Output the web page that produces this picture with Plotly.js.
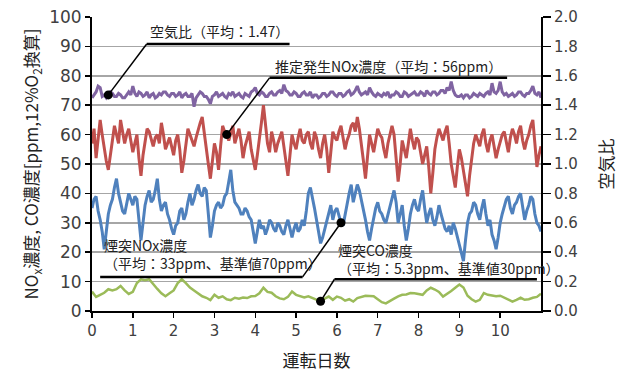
<!DOCTYPE html>
<html>
<head>
<meta charset="utf-8">
<script src="https://cdn.plot.ly/plotly-3.0.1.min.js"></script>
<style>html,body{margin:0;padding:0;background:#fff;}#chart{width:630px;height:372px;}</style>
</head>
<body>
<div id="chart"></div>
<script>
// sampling steps of the logged series (days)
const fineStep = 0.05;
const coarseStep = 0.1;
const xTickLabels = [0,1,2,3,4,5,6,7,8,9,10];

// 推定発生NOx濃度 [ppm]  (0.05-day samples, one row per half day)
const estNOx = [
  57,62,52,58,65,60,55,51,48,54,
  58,63,60,57,65,61,57,60,62,58,
  54,57,60,52,46,53,57,62,61,58,
  56,59,60,57,64,60,55,57,59,56,
  53,58,60,55,47,51,57,62,60,58,
  56,59,62,64,66,60,55,50,45,52,
  57,54,48,56,63,61,60,58,61,63,
  57,60,62,58,52,56,59,61,55,52,
  48,53,58,64,70,63,57,54,61,58,
  54,57,59,61,56,51,46,53,60,57,
  55,59,62,58,57,60,61,57,55,61,
  59,55,52,57,60,55,47,54,61,59,
  58,61,63,59,55,58,60,63,64,61,
  66,62,57,51,45,52,60,57,54,58,
  62,60,59,55,52,57,60,63,60,53,
  44,50,58,55,52,57,62,58,55,59,
  58,54,50,53,56,49,40,47,55,59,
  62,60,58,61,63,57,50,46,42,49,
  55,52,48,44,39,46,52,57,60,58,
  56,60,62,57,54,58,60,56,52,55,
  58,60,61,57,54,59,62,60,57,61,
  63,58,55,58,60,63,65,57,49,53,
  56];
// 煙突NOx濃度 [ppm]
const stackNOx = [
  35,38,39,34,31,27,21,28,33,36,
  38,42,45,40,37,34,33,37,40,38,
  36,39,38,31,24,30,36,39,41,37,
  38,41,45,38,34,36,37,33,31,28,
  26,29,30,34,35,31,33,37,40,36,
  38,41,43,40,39,42,41,33,25,29,
  34,36,37,35,36,39,40,44,48,41,
  37,36,35,33,33,35,34,32,31,27,
  23,27,31,28,29,26,28,31,30,28,
  27,30,29,27,26,29,31,28,25,28,
  30,27,28,31,29,34,40,42,39,35,
  31,27,23,25,28,31,33,36,31,34,
  35,32,30,29,33,37,40,43,37,40,
  43,41,38,35,31,27,24,28,32,35,
  37,34,33,31,30,33,35,38,41,37,
  30,33,36,29,24,28,33,36,38,35,
  34,38,41,35,30,33,35,31,29,32,
  36,33,30,28,27,29,26,30,28,25,
  22,19,17,24,30,33,34,37,36,33,
  31,35,38,33,29,31,26,24,21,25,
  30,33,36,38,39,35,33,36,37,39,
  40,36,31,34,36,39,38,33,30,29,
  27];
// 空気比
const airRatio = [
  1.45,1.47,1.49,1.53,1.52,1.46,1.47,1.45,1.47,1.49,
  1.48,1.46,1.46,1.48,1.47,1.45,1.45,1.47,1.49,1.47,
  1.53,1.48,1.46,1.49,1.48,1.46,1.47,1.49,1.45,1.47,
  1.48,1.45,1.46,1.48,1.47,1.49,1.49,1.47,1.46,1.48,
  1.48,1.46,1.47,1.49,1.45,1.47,1.48,1.46,1.46,1.48,
  1.39,1.45,1.47,1.49,1.48,1.46,1.46,1.44,1.41,1.46,
  1.47,1.49,1.46,1.47,1.48,1.46,1.45,1.48,1.47,1.49,
  1.46,1.47,1.48,1.46,1.45,1.48,1.47,1.46,1.49,1.50,
  1.52,1.48,1.47,1.49,1.48,1.46,1.46,1.48,1.49,1.47,
  1.47,1.49,1.50,1.48,1.54,1.50,1.49,1.47,1.47,1.49,
  1.48,1.46,1.46,1.48,1.49,1.47,1.47,1.49,1.45,1.47,
  1.47,1.45,1.46,1.48,1.48,1.46,1.47,1.49,1.49,1.47,
  1.46,1.48,1.48,1.46,1.47,1.49,1.50,1.47,1.48,1.50,
  1.53,1.49,1.47,1.48,1.49,1.47,1.52,1.49,1.47,1.46,
  1.48,1.47,1.46,1.48,1.47,1.49,1.45,1.47,1.47,1.49,
  1.48,1.46,1.46,1.49,1.48,1.46,1.47,1.48,1.49,1.47,
  1.47,1.49,1.48,1.46,1.50,1.48,1.47,1.49,1.49,1.47,
  1.48,1.50,1.50,1.48,1.52,1.50,1.56,1.50,1.47,1.46,
  1.46,1.47,1.45,1.47,1.47,1.45,1.46,1.48,1.47,1.46,
  1.48,1.47,1.46,1.48,1.49,1.47,1.55,1.49,1.48,1.50,
  1.56,1.49,1.47,1.48,1.46,1.47,1.48,1.46,1.47,1.49,
  1.49,1.47,1.46,1.48,1.48,1.50,1.53,1.48,1.47,1.49,
  1.45];
// 煙突CO濃度 [ppm]  (0.1-day samples)
const stackCO = [6.6,4.8,5.5,6.2,7.4,7.0,7.4,8.5,7.0,5.8,6.5,9.5,10.8,10.5,10.8,9.0,7.5,6.0,5.0,6.0,
  7.0,9.5,10.8,9.5,8.0,7.0,6.0,5.0,4.5,3.7,5.5,4.5,5.0,4.0,3.7,4.5,4.2,4.6,4.4,5.0,
  5.1,6.0,7.9,6.5,6.2,5.0,4.3,4.0,4.8,6.6,5.5,5.0,4.6,5.0,4.4,4.0,3.3,4.2,4.9,3.8,
  4.9,4.5,3.5,4.0,3.2,4.4,4.8,5.2,5.1,5.0,4.0,3.0,2.6,3.5,4.2,5.0,5.5,5.6,6.1,6.0,
  5.8,5.5,7.0,7.9,7.3,6.5,4.9,5.8,6.8,7.9,9.0,8.0,5.2,4.0,3.2,3.8,6.1,5.5,5.2,5.0,
  5.2,4.5,4.0,3.2,3.8,4.5,3.8,4.0,4.5,4.8,5.9];

// sample index of each callout point
const calloutIdx = {air: 8, est: 66, stack: 122, co: 56};

const daysFine = estNOx.map((_, i) => +(i * fineStep).toFixed(3));
const daysCoarse = stackCO.map((_, i) => +(i * coarseStep).toFixed(3));

const FONT = 'DejaVu Sans, "Noto Sans CJK JP", sans-serif';
const JFONT = '"Noto Sans CJK JP", "DejaVu Sans", sans-serif';

const traces = [
  {x: daysCoarse, y: stackCO, type: 'scatter', mode: 'lines', line: {color: '#9bbb59', width: 2.5}, hoverinfo: 'skip'},
  {x: daysFine, y: stackNOx, type: 'scatter', mode: 'lines', line: {color: '#4f81bd', width: 3}, hoverinfo: 'skip'},
  {x: daysFine, y: estNOx, type: 'scatter', mode: 'lines', line: {color: '#c0504d', width: 3}, hoverinfo: 'skip'},
  {x: daysFine, y: airRatio, yaxis: 'y2', type: 'scatter', mode: 'lines', line: {color: '#8064a2', width: 3}, hoverinfo: 'skip'},
  {x: [daysFine[calloutIdx.est], daysFine[calloutIdx.stack], daysCoarse[calloutIdx.co]],
   y: [estNOx[calloutIdx.est], stackNOx[calloutIdx.stack], stackCO[calloutIdx.co]],
   type: 'scatter', mode: 'markers', marker: {color: '#000', size: 9}, hoverinfo: 'skip'},
  {x: [daysFine[calloutIdx.air]], y: [airRatio[calloutIdx.air]], yaxis: 'y2',
   type: 'scatter', mode: 'markers', marker: {color: '#000', size: 9}, hoverinfo: 'skip'}
];

const ln = (pts) => ({type: 'path', xref: 'x', yref: 'y',
  path: 'M' + pts.map(p => p[0] + ',' + p[1]).join(' L'), line: {color: '#000', width: 1.5}});
const hl = (x0, x1, y) => ({type: 'line', xref: 'x', yref: 'y', x0: x0, x1: x1, y0: y, y1: y, line: {color: '#000', width: 2.5}});

const airY = airRatio[calloutIdx.air] * 50;
const shapes = [
  ln([[daysFine[calloutIdx.air], airY], [1.34, 90.8]]), hl(1.34, 4.84, 90.8),
  ln([[daysFine[calloutIdx.est], estNOx[calloutIdx.est]], [4.35, 79.3]]), hl(4.35, 10.17, 79.3),
  ln([[daysFine[calloutIdx.stack], stackNOx[calloutIdx.stack]], [5.16, 11.6]]), hl(0.2, 5.16, 11.6),
  ln([[daysCoarse[calloutIdx.co], stackCO[calloutIdx.co]], [5.94, 10.8]]), hl(5.94, 10.9, 10.8)
];

const ann = (x, y, text, xanchor) => ({x: x, y: y, xref: 'x', yref: 'y', text: text, showarrow: false,
  xanchor: xanchor || 'left', yanchor: 'middle', align: 'left', font: {family: JFONT, size: 14, color: '#222'}});
const annotations = [
  ann(3.13, 95.2, '空気比（平均：1.47）', 'center'),
  ann(7.26, 83.3, '推定発生NOx濃度（平均：56ppm）', 'center'),
  ann(0.25, 19.4, '煙突NOx濃度<br>（平均：33ppm、基準値70ppm）'),
  ann(5.97, 17.6, '煙突CO濃度<br>（平均：5.3ppm、基準値30ppm）')
];

const layout = {
  width: 630, height: 372,
  margin: {l: 92, r: 89, t: 17, b: 61},
  paper_bgcolor: '#fff', plot_bgcolor: '#fff',
  showlegend: false,
  font: {family: FONT, color: '#404040'},
  xaxis: {range: [0, 11], tickvals: xTickLabels, ticktext: xTickLabels.map(String),
    ticks: 'outside', ticklen: 5, tickwidth: 1.5, tickcolor: '#000',
    showline: true, linecolor: '#000', linewidth: 2, showgrid: false, zeroline: false,
    tickfont: {size: 15, color: '#404040', family: FONT},
    title: {text: '運転日数', font: {size: 17, family: JFONT, color: '#222'}, standoff: 16}},
  yaxis: {range: [0, 100], dtick: 10, tick0: 0,
    ticks: 'outside', ticklen: 5, tickwidth: 1.5, tickcolor: '#000',
    showline: true, linecolor: '#000', linewidth: 2, showgrid: true, gridcolor: '#a6a6a6', gridwidth: 1.5, zeroline: false,
    tickfont: {size: 17, color: '#404040', family: FONT},
    title: {text: 'NO<sub>x</sub>濃度, CO濃度[ppm,12%O<sub>2</sub>換算]', font: {size: 17, family: JFONT, color: '#222'}, standoff: 6}},
  yaxis2: {range: [0, 2], dtick: 0.2, tick0: 0, tickformat: '.1f', overlaying: 'y', side: 'right',
    ticks: 'outside', ticklen: 8, tickwidth: 1.5, tickcolor: '#000',
    showline: true, linecolor: '#000', linewidth: 2, showgrid: false, zeroline: false,
    tickfont: {size: 15, color: '#404040', family: FONT},
    title: {text: '空気比', font: {size: 17, family: JFONT, color: '#222'}, standoff: 24}},
  shapes: shapes,
  annotations: annotations
};

Plotly.newPlot('chart', traces, layout, {staticPlot: true, displayModeBar: false});
</script>
</body>
</html>
